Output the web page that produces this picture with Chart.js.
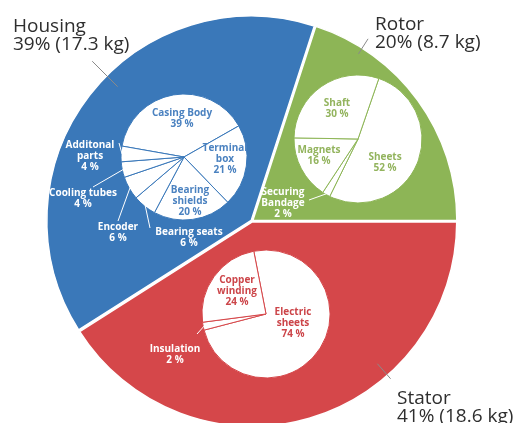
<!DOCTYPE html>
<html>
<head>
<meta charset="utf-8">
<script src="https://cdn.jsdelivr.net/npm/chart.js@4.4.1/dist/chart.umd.min.js"></script>
<style>
  html, body { margin: 0; padding: 0; background: #ffffff; }
  #wrap { position: relative; width: 519px; height: 423px; overflow: hidden; }
  #wrap canvas { position: absolute; left: 0; top: 0; }
</style>
</head>
<body>
<div id="wrap">
  <canvas id="main" width="519" height="423"></canvas>
  <canvas id="subHousing" width="519" height="423"></canvas>
  <canvas id="subRotor" width="519" height="423"></canvas>
  <canvas id="subStator" width="519" height="423"></canvas>
</div>
<script>
// ---- Motor mass breakdown ----
const groups = ['Housing', 'Rotor', 'Stator'];
const groupShares = [39, 20, 41];          // %
const groupMass = [17.3, 8.7, 18.6];       // kg

const housingParts = ['Casing Body', 'Terminal box', 'Bearing shields', 'Bearing seats', 'Encoder', 'Cooling tubes', 'Additonal parts'];
const housingShares = [39, 21, 20, 6, 6, 4, 4];

const rotorParts = ['Sheets', 'Securing Bandage', 'Magnets', 'Shaft'];
const rotorShares = [52, 2, 16, 30];

const statorParts = ['Electric sheets', 'Insulation', 'Copper winding'];
const statorShares = [74, 2, 24];

// ---- Styling / layout ----
const W = 519, H = 423;
const BLUE = '#3a78b9', GREEN = '#8db556', RED = '#d5474a';
const BLUE_TXT = '#4b82c0', GREEN_TXT = '#93b45e', RED_TXT = '#cc4549';
const FONT_FAMILY = '"Open Sans", "Noto Sans", sans-serif';

// place a pie centre at (cx, cy) on a full-size canvas via layout padding
function centerPadding(cx, cy) {
  const px = 2 * cx - W, py = 2 * cy - H;
  return { left: Math.max(px, 0), right: Math.max(-px, 0), top: Math.max(py, 0), bottom: Math.max(-py, 0) };
}

const mainLayout = {
  cx: 252, cy: 221, radius: 204, rotation: -122.4,
  // group captions: text block left/baseline + radial leader (angle deg, from/to radius)
  captions: [
    { x: 13, y: 32, angle: 315, r0: 190, r1: 226 },
    { x: 375, y: 30, angle: 32.5, r0: 198, r1: 216 },
    { x: 397, y: 404, angle: 138.7, r0: 190, r1: 210 }
  ]
};

// sub-pie label placement: centre of first text line; inside labels use the tint colour,
// outside labels are white with a leader from (lx, ly) to the slice edge
const housingLayout = {
  cx: 184, cy: 157, radius: 63, rotation: -80, color: BLUE, text: BLUE_TXT,
  labels: [
    { x: 182, y: 113, wrap: false, inside: true },
    { x: 225, y: 148, wrap: true, inside: true },
    { x: 190, y: 190, wrap: true, inside: true },
    { x: 189, y: 232, wrap: false, inside: false, lx: 150, ly: 228 },
    { x: 118, y: 227, wrap: false, inside: false, lx: 118, ly: 221 },
    { x: 83, y: 193, wrap: false, inside: false, lx: 93, ly: 187 },
    { x: 90, y: 145, wrap: true, inside: false, lx: 119, ly: 143 }
  ]
};
const rotorLayout = {
  cx: 358, cy: 139, radius: 64, rotation: 19, color: GREEN, text: GREEN_TXT,
  labels: [
    { x: 385, y: 157, wrap: false, inside: true },
    { x: 283, y: 192, wrap: true, inside: false, lx: 309, ly: 200 },
    { x: 319, y: 150, wrap: false, inside: true },
    { x: 337, y: 103, wrap: false, inside: true }
  ]
};
const statorLayout = {
  cx: 266, cy: 314, radius: 64, rotation: -11, color: RED, text: RED_TXT,
  labels: [
    { x: 293, y: 312, wrap: true, inside: true },
    { x: 175, y: 349, wrap: false, inside: false, lx: 197, ly: 334 },
    { x: 237, y: 280, wrap: true, inside: true }
  ]
};

// ---- Main pie: captions and leaders ----
const captionPlugin = {
  id: 'captions',
  afterDraw(chart) {
    const ctx = chart.ctx;
    const arc = chart.getDatasetMeta(0).data[0];
    const cx = arc.x, cy = arc.y;
    ctx.save();
    mainLayout.captions.forEach((c, i) => {
      const a = c.angle * Math.PI / 180;
      ctx.strokeStyle = '#8a8a8a';
      ctx.lineWidth = 1;
      ctx.beginPath();
      ctx.moveTo(cx + Math.sin(a) * c.r0, cy - Math.cos(a) * c.r0);
      ctx.lineTo(cx + Math.sin(a) * c.r1, cy - Math.cos(a) * c.r1);
      ctx.stroke();
      ctx.fillStyle = '#2e2e2e';
      ctx.font = '19px ' + FONT_FAMILY;
      ctx.textAlign = 'left';
      ctx.textBaseline = 'alphabetic';
      ctx.fillText(groups[i], c.x, c.y);
      ctx.fillText(groupShares[i] + '% (' + groupMass[i] + ' kg)', c.x, c.y + 18);
    });
    ctx.restore();
  }
};

new Chart(document.getElementById('main'), {
  type: 'pie',
  data: {
    labels: groups,
    datasets: [{
      data: groupShares,
      backgroundColor: [BLUE, GREEN, RED],
      borderColor: '#ffffff',
      borderWidth: 1.5,
      offset: 4
    }]
  },
  options: {
    responsive: false,
    animation: false,
    events: [],
    rotation: mainLayout.rotation,
    radius: mainLayout.radius,
    layout: { padding: centerPadding(mainLayout.cx, mainLayout.cy) },
    plugins: { legend: { display: false }, tooltip: { enabled: false } }
  },
  plugins: [captionPlugin]
});

// ---- Sub pies ----
function partLabelsPlugin(names, shares, layout) {
  return {
    id: 'partLabels',
    afterDraw(chart) {
      const ctx = chart.ctx;
      const arcs = chart.getDatasetMeta(0).data;
      ctx.save();
      ctx.font = 'bold 10px ' + FONT_FAMILY;
      ctx.textAlign = 'center';
      ctx.textBaseline = 'middle';
      layout.labels.forEach((lb, i) => {
        const lines = lb.wrap ? names[i].split(' ') : [names[i]];
        lines.push(shares[i] + ' %');
        if (!lb.inside) {
          const arc = arcs[i];
          const mid = (arc.startAngle + arc.endAngle) / 2;
          const r = arc.outerRadius - 1;
          ctx.strokeStyle = '#ffffff';
          ctx.lineWidth = 1;
          ctx.beginPath();
          ctx.moveTo(lb.lx, lb.ly);
          ctx.lineTo(arc.x + Math.cos(mid) * r, arc.y + Math.sin(mid) * r);
          ctx.stroke();
        }
        ctx.fillStyle = lb.inside ? layout.text : '#ffffff';
        lines.forEach((t, k) => ctx.fillText(t, lb.x, lb.y + k * 11));
      });
      ctx.restore();
    }
  };
}

function subPie(id, names, shares, layout) {
  new Chart(document.getElementById(id), {
    type: 'pie',
    data: {
      labels: names,
      datasets: [{
        data: shares,
        backgroundColor: '#ffffff',
        borderColor: layout.color,
        borderWidth: 1
      }]
    },
    options: {
      responsive: false,
      animation: false,
      events: [],
      rotation: layout.rotation,
      radius: layout.radius,
      layout: { padding: centerPadding(layout.cx, layout.cy) },
      plugins: { legend: { display: false }, tooltip: { enabled: false } }
    },
    plugins: [partLabelsPlugin(names, shares, layout)]
  });
}

subPie('subHousing', housingParts, housingShares, housingLayout);
subPie('subRotor', rotorParts, rotorShares, rotorLayout);
subPie('subStator', statorParts, statorShares, statorLayout);
</script>
</body>
</html>
